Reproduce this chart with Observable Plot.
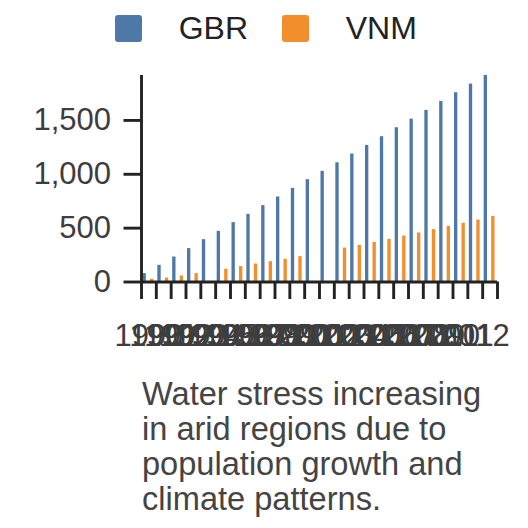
<!DOCTYPE html>
<html>
<head>
<meta charset="utf-8">
<script src="https://cdn.jsdelivr.net/npm/d3@7"></script>
<script src="https://cdn.jsdelivr.net/npm/@observablehq/plot@0.6"></script>
<style>
  html, body { margin: 0; padding: 0; background: #fff; }
  #wrap { position: relative; width: 528px; height: 528px; overflow: hidden; font-family: "Liberation Sans", Arial, sans-serif; }
  #legend { position: absolute; top: 10px; left: 115px; }
  #chart { position: absolute; top: 56px; left: 0; }
  #caption { position: absolute; top: 376px; left: 142px; width: 362px; font-size: 32.6px; line-height: 35px; color: #444; }
</style>
</head>
<body>
<div id="wrap">
  <div id="legend"></div>
  <div id="chart"></div>
  <div id="caption"></div>
</div>
<script>
// ---- data ----
const years = [1990, 1991, 1992, 1993, 1994, 1995, 1996, 1997, 1998, 1999, 2000, 2001,
               2002, 2003, 2004, 2005, 2006, 2007, 2008, 2009, 2010, 2011, 2012, 2013];
const countries = ["GBR", "VNM"];
const gbrValues = [78, 155, 232, 310, 393, 470, 551, 628, 709, 789, 869, 950,
                   1027, 1107, 1188, 1268, 1349, 1432, 1512, 1593, 1676, 1757, 1837, 1917];
const vnmValues = [25, 37, 56, 78, null, 118, 143, 167, 189, 211, 236, null,
                   null, 315, 340, 368, 396, 427, 455, 486, 517, 545, 575, 609];
const yTicks = [0, 500, 1000, 1500];
const tickLabelYears = [1990, 1991, 1992, 1993, 1994, 1995, 1996, 1997, 1998, 1999, 2000, 2001,
                        2002, 2003, 2004, 2005, 2006, 2007, 2008, 2009, 2010, 2011, 2012];
const colors = ["#4e79a7", "#f28e2c"];
const captionText = "Water stress increasing in arid regions due to population growth and climate patterns.";

// ---- tables ----
const gbrRows = years.map((year, i) => ({year, country: "GBR", value: gbrValues[i]})).filter(d => d.value != null);
const vnmRows = years.map((year, i) => ({year, country: "VNM", value: vnmValues[i]})).filter(d => d.value != null);
const edgeYears = d3.range(years[0], years[years.length - 1] + 2);

const W = 528, H = 300, ML = 141, MR = 31, MT = 19, MB = 74.5;
const halfStep = (W - ML - MR) / (edgeYears.length - 1) / 2;
const SW = 2.9;

const chart = Plot.plot({
  width: W,
  height: H,
  marginLeft: ML,
  marginRight: MR,
  marginTop: MT,
  marginBottom: MB,
  style: {fontSize: "31px", fontFamily: "Liberation Sans, Arial, sans-serif", color: "#222", background: "transparent", overflow: "visible"},
  x: {type: "linear", domain: [edgeYears[0], edgeYears[edgeYears.length - 1]]},
  y: {domain: [0, d3.max(gbrValues.concat(vnmValues))]},
  color: {domain: countries, range: colors},
  marks: [
    Plot.rectY(gbrRows, {x: "year", interval: 1, y1: 0, y2: "value", fill: "country", insetLeft: 1.5, insetRight: 10}),
    Plot.rectY(vnmRows, {x: "year", interval: 1, y1: 0, y2: "value", fill: "country", insetLeft: 9, insetRight: 2.5}),
    Plot.ruleX([edgeYears[0]], {stroke: "#222", strokeWidth: SW}),
    Plot.ruleY([0], {stroke: "#222", strokeWidth: SW}),
    Plot.axisY({ticks: yTicks, tickSize: 17.5, tickPadding: 13, strokeWidth: SW, stroke: "#222", fill: "#3d3d3d", label: null}),
    Plot.axisX({ticks: edgeYears, tickSize: 17.5, strokeWidth: SW, stroke: "#222", tickFormat: () => "", label: null}),
    Plot.axisX({ticks: tickLabelYears, tickSize: 0, tickPadding: 41.5, dx: halfStep, tickFormat: "d", fill: "#3d3d3d", label: null})
  ]
});
document.getElementById("chart").appendChild(chart);

const legend = chart.legend("color", {
  swatchSize: 27,
  style: {fontSize: "32px", fontFamily: "Liberation Sans, Arial, sans-serif", color: "#222", margin: "0"}
});
if (legend) {
  legend.querySelectorAll("span").forEach(s => { s.style.marginRight = "34px"; });
  legend.querySelectorAll("svg").forEach(s => { s.style.marginRight = "36.7px"; });
  legend.querySelectorAll("svg rect").forEach(r => { r.setAttribute("rx", 3); });
  document.getElementById("legend").appendChild(legend);
}
document.getElementById("caption").textContent = captionText;
</script>
</body>
</html>
